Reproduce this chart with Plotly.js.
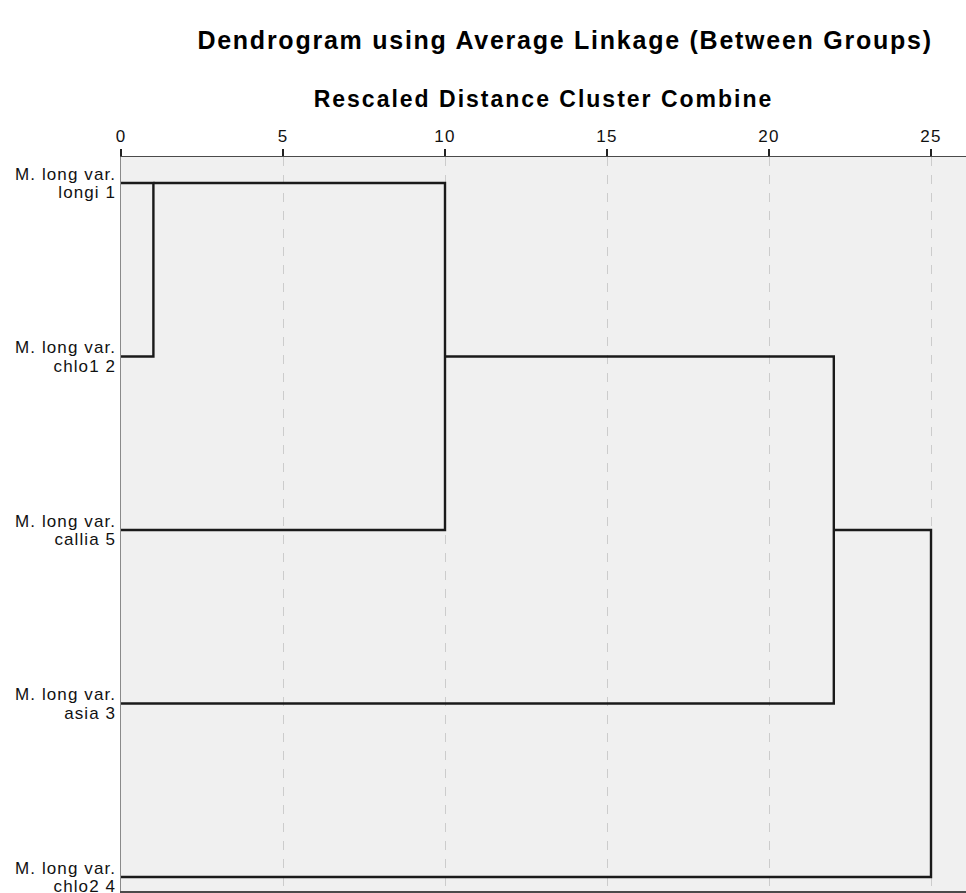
<!DOCTYPE html>
<html>
<head>
<meta charset="utf-8">
<script src="https://cdn.plot.ly/plotly-3.0.1.min.js"></script>
<style>
  html, body { margin: 0; padding: 0; background: #ffffff; }
  #chart { width: 966px; height: 893px; }
  .main-svg text.gtitle { letter-spacing: 1.75px; }
  .main-svg text.xtitle { letter-spacing: 2px; }
  .main-svg g.xtick text { letter-spacing: 1.2px; }
  .main-svg g.ytick text { letter-spacing: 1.1px; }
</style>
</head>
<body>
<div id="chart"></div>
<script>
// Leaves (top to bottom) in dendrogram order
const leafLabels = [
  "M. long var.<br>longi 1",
  "M. long var.<br>chlo1 2",
  "M. long var.<br>callia 5",
  "M. long var.<br>asia 3",
  "M. long var.<br>chlo2 4"
];
const leafRows = [1, 2, 3, 4, 5];

// Merge steps: rows joined, rescaled distance, row the new cluster occupies
const mergeTop = [1, 1, 2, 3];
const mergeBottom = [2, 3, 4, 5];
const mergeDistance = [1, 10, 22, 25];
const mergeNewRow = [1, 2, 3, 3];

const tickValues = [0, 5, 10, 15, 20, 25];
const tickLabels = ["0", "5", "10", "15", "20", "25"];

// Build dendrogram line segments from the merge data
const startX = {};
leafRows.forEach(r => { startX[r] = 0; });
const xs = [], ys = [];
for (let k = 0; k < mergeDistance.length; k++) {
  const t = mergeTop[k], b = mergeBottom[k], d = mergeDistance[k];
  xs.push(startX[t], d, d, startX[b], null);
  ys.push(t, t, b, b, null);
  startX[mergeNewRow[k]] = d;
}

const font = "Liberation Sans, Arial, sans-serif";
const yFontSize = 17;

const traces = [{
  type: "scatter",
  mode: "lines",
  x: xs,
  y: ys,
  line: { color: "#1a1a1a", width: 2.4 },
  hoverinfo: "none",
  showlegend: false,
  cliponaxis: false
}];

const layout = {
  width: 966,
  height: 893,
  margin: { l: 121, r: 0, t: 157, b: 2 },
  paper_bgcolor: "#ffffff",
  plot_bgcolor: "#f0f0f0",
  font: { family: font, color: "#111111" },
  title: {
    text: "<b>Dendrogram using Average Linkage (Between Groups)</b>",
    font: { family: font, size: 25, color: "#000000" },
    xref: "container", x: 0.585, xanchor: "center",
    yref: "container", y: 0.955, yanchor: "middle"
  },
  xaxis: {
    side: "top",
    range: [0, 26.08],
    tickvals: tickValues,
    ticktext: tickLabels,
    ticks: "outside",
    ticklen: 7,
    tickwidth: 2,
    tickcolor: "#222222",
    tickfont: { family: font, size: 17, color: "#111111" },
    showgrid: true,
    gridcolor: "#cccccc",
    griddash: "dash",
    gridwidth: 1,
    zeroline: false,
    showline: true,
    linecolor: "#4a4a4a",
    linewidth: 1.5,
    mirror: true,
    title: {
      text: "<b>Rescaled Distance Cluster Combine</b>",
      font: { family: font, size: 23, color: "#000000" },
      standoff: 12
    },
    fixedrange: true
  },
  yaxis: {
    range: [5.081, 0.85],
    tickvals: leafRows,
    ticktext: leafLabels,
    ticks: "",
    ticklabeloverflow: "allow",
    tickfont: { family: font, size: yFontSize, color: "#111111" },
    showgrid: false,
    zeroline: false,
    showline: true,
    linecolor: "#8a8a8a",
    linewidth: 1.5,
    fixedrange: true
  }
};

Plotly.newPlot("chart", traces, layout, { displayModeBar: false, staticPlot: true }).then(gd => {
  // tighten line spacing of the two-line leaf labels, keeping them centred on the leaf
  const lineEm = 1.1;
  gd.querySelectorAll("g.ytick text").forEach(txt => {
    const lines = txt.querySelectorAll("tspan.line");
    if (lines.length < 2) return;
    lines.forEach((ts, i) => { if (i > 0) ts.setAttribute("dy", lineEm + "em"); });
    const shift = (1.3 - lineEm) * (lines.length - 1) / 2 * yFontSize;
    const tr = txt.getAttribute("transform") || "";
    txt.setAttribute("transform", tr + " translate(0," + shift.toFixed(2) + ")");
  });
});
</script>
</body>
</html>
